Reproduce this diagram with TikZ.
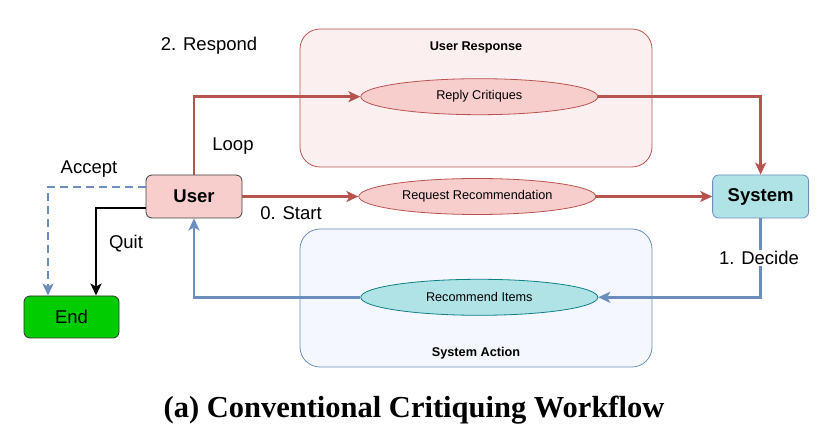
\documentclass[tikz,border=0pt]{standalone}
\usepackage{fontspec}
\setmainfont{Liberation Sans}
\newfontfamily\captionserif{Liberation Serif}
\usetikzlibrary{shapes,arrows,arrows.meta,positioning}

\definecolor{respred}{HTML}{B85450}
\definecolor{respfill}{HTML}{F8CECC}
\definecolor{respbg}{HTML}{FCEFEF}
\definecolor{actblue}{HTML}{6C8EBF}
\definecolor{actfill}{HTML}{B0E3E6}
\definecolor{actline}{HTML}{0E8088}
\definecolor{actbg}{HTML}{F4F7FD}
\definecolor{endgreen}{HTML}{00CC00}

\begin{document}
\begin{tikzpicture}[x=1pt, y=-1pt, >={Stealth[length=12pt, width=11pt, inset=3pt]}]
    % Define styles
    \tikzstyle{group} = [draw, rectangle, rounded corners=20pt, minimum width=352pt, minimum height=138pt, line width=0.8pt]
    \tikzstyle{grouptitle} = [font=\fontsize{12.7}{14}\selectfont\bfseries]
    \tikzstyle{actor} = [draw, rectangle, rounded corners=6pt, minimum width=96pt, minimum height=43pt, line width=0.8pt, font=\fontsize{18.5}{20}\selectfont\bfseries]
    \tikzstyle{task} = [draw, ellipse, inner sep=0pt, minimum width=237pt, minimum height=36pt, line width=0.8pt, font=\fontsize{12.7}{14}\selectfont]
    \tikzstyle{endbox} = [draw=black!80, fill=endgreen, rectangle, rounded corners=6pt, minimum width=95pt, minimum height=42pt, line width=0.8pt, font=\fontsize{18.5}{20}\selectfont]
    \tikzstyle{flowlabel} = [inner sep=1pt, font=\fontsize{18.5}{20}\selectfont]
    \tikzstyle{respflow} = [->, draw=respred, line width=2.8pt]
    \tikzstyle{actflow} = [->, draw=actblue, line width=2.8pt]
    \tikzstyle{quitflow} = [->, draw=black, line width=2.8pt]

    \useasboundingbox (0,0) rectangle (827,435);

    % Groups
    \node[group, draw=respred, fill=respbg] (respgroup) at (476,98) {};
    \node[grouptitle] (resptitle) at (476,47) {User Response};
    \node[group, draw=actblue, fill=actbg] (actgroup) at (476,298) {};
    \node[grouptitle] (acttitle) at (476,353) {System Action};

    % Actors
    \node[actor, draw=black!75, fill=respfill] (user) at (194,196.5) {User};
    \node[task, draw=respred, fill=respfill, right=116pt of user] (request) {Request Recommendation};
    \node[actor, draw=actblue, fill=actfill, right=116pt of request] (system) {System};
    \node[endbox] (endnode) at (71.5,317) {End};

    % Steps
    \node[task, draw=respred, fill=respfill, above=63pt of request, xshift=2pt] (reply) {Reply Critiques};
    \node[task, draw=actline, fill=actfill, below=64pt of request, xshift=2pt] (recommend) {Recommend Items};

    % Arrows: User response
    \draw[respflow] (user.north) |- (reply.west);
    \draw[respflow] (reply.east) -| (system.north);
    \draw[respflow] (user.east) -- (request.west);
    \draw[respflow] (request.east) -- (system.west);

    % Arrows: System action
    \draw[actflow] (system.south) |- (recommend.east);
    \draw[actflow] (recommend.west) -| (user.south);

    % Arrows: Leaving
    \draw[actflow, dash pattern=on 8pt off 5pt] ([yshift=9.5pt]user.west) -| ([xshift=-23.5pt]endnode.north);
    \draw[quitflow] ([yshift=-11.5pt]user.west) -| ([xshift=24.5pt]endnode.north);

    % Labels
    \node[flowlabel] (respondlabel) at (209,46) {2. Respond};
    \node[flowlabel] (looplabel) at (233,146) {Loop};
    \node[flowlabel] (acceptlabel) at (89,169) {Accept};
    \node[flowlabel] (quitlabel) at (126,244) {Quit};
    \node[flowlabel] (startlabel) at (291,213) {0. Start};
    \node[flowlabel, fill=white] (decidelabel) at (759,258) {1. Decide};

    % Caption
    \node[font=\captionserif\bfseries\fontsize{30.5}{34}\selectfont] (caption) at (414,410) {(a) Conventional Critiquing Workflow};
\end{tikzpicture}
\end{document}
